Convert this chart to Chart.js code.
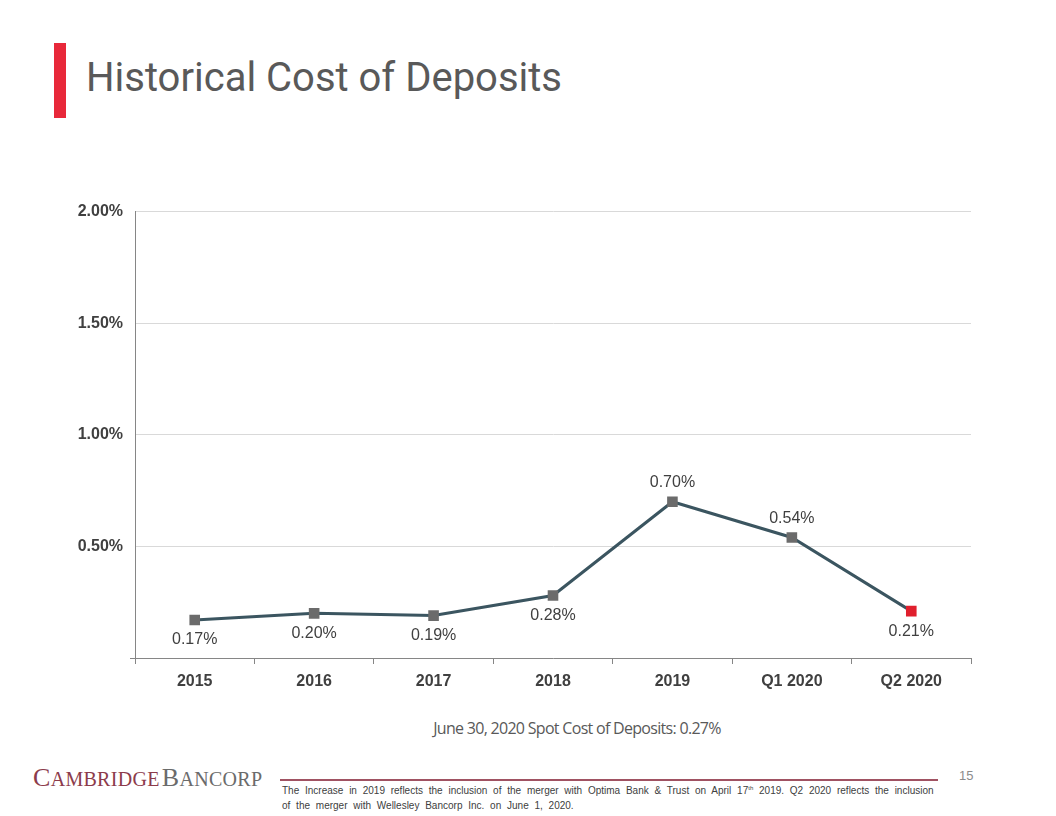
<!DOCTYPE html>
<html>
<head>
<meta charset="utf-8">
<script src="https://cdn.jsdelivr.net/npm/chart.js@4"></script>
<style>
  html, body { margin: 0; padding: 0; background: #ffffff; }
  body { width: 1056px; height: 816px; position: relative; overflow: hidden; font-family: "Liberation Sans", Arial, sans-serif; }
  .bar { position: absolute; left: 54px; top: 43px; width: 12px; height: 75px; background: #e8283a; }
  .title { position: absolute; left: 86px; top: 54px; font-family: Roboto, "Liberation Sans", sans-serif; font-size: 40px; color: #595959; letter-spacing: 0px; white-space: nowrap; }
  #wrap { position: absolute; left: 0; top: 195px; width: 1056px; height: 505px; }
  .sub { position: absolute; left: 0; width: 1154px; top: 717px; text-align: center; font-family: "Liberation Sans Narrow", "Open Sans", sans-serif; font-size: 16px; color: #595959; letter-spacing: -0.7px; white-space: nowrap; }
  .logo { position: absolute; left: 33px; top: 763px; font-family: "Liberation Serif", "DejaVu Serif", serif; font-size: 20px; letter-spacing: 0.3px; white-space: nowrap; }
  .logo .big { font-size: 26px; }
  .logo .c1 { color: #8c3b4b; }
  .logo .c2 { color: #6b6b6b; margin-left: 2px; }
  .rule { position: absolute; left: 280px; top: 779px; width: 658px; height: 2px; background: #a05262; }
  .page { position: absolute; left: 959px; top: 768px; font-size: 13px; color: #8c8c8c; }
  .foot { position: absolute; left: 282px; top: 783px; font-family: "Liberation Sans Narrow", "Liberation Sans", sans-serif; font-size: 10px; line-height: 15px; color: #404040; word-spacing: 3px; white-space: nowrap; }
  .foot sup { font-size: 6px; line-height: 0; vertical-align: 4px; }
</style>
</head>
<body>
<div class="bar"></div>
<div class="title">Historical Cost of Deposits</div>
<div id="wrap"><canvas id="c"></canvas></div>
<div class="sub">June 30, 2020 Spot Cost of Deposits: 0.27%</div>
<div class="logo"><span class="c1"><span class="big">C</span>AMBRIDGE</span><span class="c2"><span class="big">B</span>ANCORP</span></div>
<div class="rule"></div>
<div class="page">15</div>
<div class="foot">The Increase in 2019 reflects the inclusion of the merger with Optima Bank &amp; Trust on April 17<sup>th</sup> 2019. Q2 2020 reflects the inclusion<br>of the merger with Wellesley Bancorp Inc. on June 1, 2020.</div>
<script>
const categories = ["2015", "2016", "2017", "2018", "2019", "Q1 2020", "Q2 2020"];
const costOfDeposits = [0.17, 0.20, 0.19, 0.28, 0.70, 0.54, 0.21];
const yTickValues = [0, 0.5, 1.0, 1.5, 2.0];
const labelSide = ["below", "below", "below", "below", "above", "above", "below"];
const pointColors = ["#6b6b6b", "#6b6b6b", "#6b6b6b", "#6b6b6b", "#6b6b6b", "#6b6b6b", "#e01f2d"];

const labelPlugin = {
  id: "pointLabels",
  afterDatasetsDraw(chart) {
    const ctx = chart.ctx;
    const meta = chart.getDatasetMeta(0);
    ctx.save();
    ctx.font = "16px 'Liberation Sans', Arial, sans-serif";
    ctx.fillStyle = "#404040";
    ctx.textAlign = "center";
    meta.data.forEach((pt, i) => {
      const v = costOfDeposits[i];
      const txt = v.toFixed(2) + "%";
      if (labelSide[i] === "above") {
        ctx.textBaseline = "bottom";
        ctx.fillText(txt, pt.x, pt.y - 11);
      } else {
        ctx.textBaseline = "top";
        ctx.fillText(txt, pt.x, pt.y + 12);
      }
    });
    ctx.restore();
  }
};

new Chart(document.getElementById("c"), {
  type: "line",
  data: {
    labels: categories,
    datasets: [{
      data: costOfDeposits,
      borderColor: "#3b5560",
      borderWidth: 3,
      tension: 0,
      pointStyle: "rect",
      pointRadius: 7.5,
      pointHoverRadius: 7.5,
      pointBackgroundColor: pointColors,
      pointBorderColor: pointColors,
      pointBorderWidth: 0
    }]
  },
  options: {
    responsive: true,
    maintainAspectRatio: false,
    animation: false,
    events: [],
    layout: { padding: { top: 6, right: 85, left: 0, bottom: 0 } },
    plugins: { legend: { display: false }, tooltip: { enabled: false } },
    scales: {
      x: {
        offset: true,
        grid: { offset: true, drawOnChartArea: false, drawTicks: true, tickLength: 6, color: "#868686", lineWidth: 1 },
        border: { color: "#868686", width: 1 },
        ticks: { color: "#404040", font: { family: "'Liberation Sans', Arial, sans-serif", size: 16, weight: "bold" }, padding: 8, maxRotation: 0 },
        afterFit(scale) { scale.height = 42; }
      },
      y: {
        min: 0,
        max: 2,
        afterBuildTicks(scale) { scale.ticks = yTickValues.map(v => ({ value: v })); },
        grid: {
          color: "#d9d9d9",
          lineWidth: 1,
          drawTicks: true,
          tickLength: 5,
          tickColor: (c) => (c.tick && c.tick.value === 0 ? "#868686" : "rgba(0,0,0,0)")
        },
        border: { color: "#868686", width: 1 },
        ticks: {
          color: "#404040",
          font: { family: "'Liberation Sans', Arial, sans-serif", size: 16, weight: "bold" },
          padding: 7,
          callback: (v) => (v === 0 ? "" : v.toFixed(2) + "%")
        },
        afterFit(scale) { scale.width = 135; }
      }
    }
  },
  plugins: [labelPlugin]
});
</script>
</body>
</html>
